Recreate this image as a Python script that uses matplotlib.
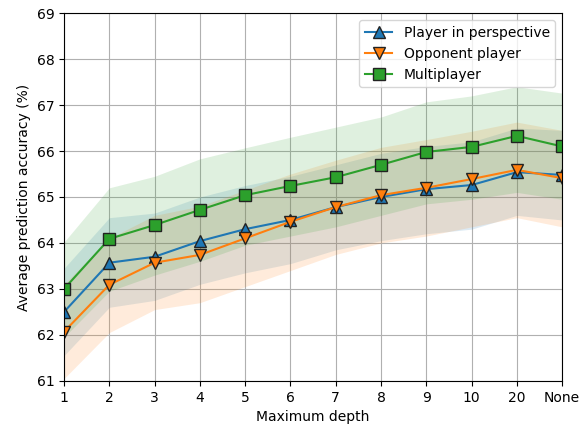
import matplotlib
matplotlib.use("Agg")
import matplotlib.pyplot as plt
import numpy as np

depths = ["1", "2", "3", "4", "5", "6", "7", "8", "9", "10", "20", "None"]

player_mean = [62.5, 63.57, 63.7, 64.04, 64.3, 64.5, 64.78, 65.0, 65.17, 65.26, 65.54, 65.48]
player_lo = [61.55, 62.6, 62.75, 63.1, 63.35, 63.55, 63.85, 64.05, 64.2, 64.3, 64.6, 64.5]
player_hi = [63.45, 64.55, 64.65, 65.0, 65.25, 65.45, 65.7, 65.95, 66.1, 66.2, 66.5, 66.45]

opponent_mean = [62.07, 63.09, 63.57, 63.74, 64.1, 64.46, 64.78, 65.04, 65.2, 65.39, 65.59, 65.41]
opponent_lo = [61.05, 62.05, 62.55, 62.7, 63.05, 63.4, 63.75, 64.0, 64.15, 64.35, 64.55, 64.35]
opponent_hi = [63.1, 64.1, 64.6, 64.8, 65.15, 65.5, 65.8, 66.08, 66.25, 66.43, 66.63, 66.45]

multi_mean = [63.0, 64.09, 64.39, 64.72, 65.04, 65.24, 65.43, 65.7, 65.98, 66.09, 66.33, 66.1]
multi_lo = [61.95, 62.95, 63.3, 63.6, 63.95, 64.15, 64.35, 64.6, 64.85, 64.95, 65.1, 64.95]
multi_hi = [64.02, 65.2, 65.45, 65.83, 66.07, 66.3, 66.52, 66.74, 67.07, 67.2, 67.4, 67.26]

fig = plt.figure(figsize=(5.88, 4.25), dpi=100)
ax = fig.add_axes([0.109, 0.104, 0.847, 0.865])

x = np.arange(len(depths))
series = [
    ("Player in perspective", player_mean, player_lo, player_hi, "tab:blue", "^"),
    ("Opponent player", opponent_mean, opponent_lo, opponent_hi, "tab:orange", "v"),
    ("Multiplayer", multi_mean, multi_lo, multi_hi, "tab:green", "s"),
]
for label, mean, lo, hi, color, marker in series:
    ax.fill_between(x, lo, hi, color=color, alpha=0.15, linewidth=0)
    ax.plot(x, mean, color=color, marker=marker, markersize=9,
            markeredgecolor="#222222", markeredgewidth=1.0, label=label)

ax.set_xticks(x)
ax.set_xticklabels(depths)
ax.set_xlim(0, len(depths) - 1)
ax.set_ylim(61, 69)
ax.set_xlabel("Maximum depth")
ax.set_ylabel("Average prediction accuracy (%)")
ax.grid(True, color="#b0b0b0", linewidth=0.8)
ax.set_axisbelow(True)
ax.legend(loc="upper right")

fig.savefig("out.png", dpi=100)
